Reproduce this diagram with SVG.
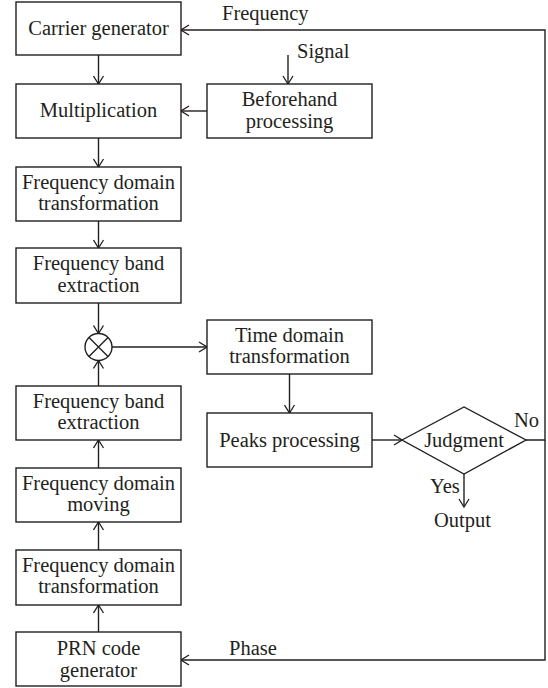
<svg xmlns="http://www.w3.org/2000/svg" width="548" height="688" viewBox="0 0 548 688">
<defs>
<style>
.box{fill:#fff;stroke:#231f20;stroke-width:1.4}
.ln{fill:none;stroke:#231f20;stroke-width:1.4}
text{font-family:'Liberation Serif','Times New Roman',serif;font-size:20.5px;fill:#231f20;text-anchor:middle}
.lbl{text-anchor:start}
</style>
<marker id="arr" viewBox="0 0 10 12" refX="9" refY="6" markerWidth="10" markerHeight="12" markerUnits="userSpaceOnUse" orient="auto">
<path d="M1,1 L9,6 L1,11" fill="none" stroke="#231f20" stroke-width="1.3"/>
</marker>
</defs>
<rect width="548" height="688" fill="#fff"/>
<g id="connectors">
<line class="ln" x1="98.5" y1="55" x2="98.5" y2="84" marker-end="url(#arr)"/>
<line class="ln" x1="207" y1="111" x2="181" y2="111" marker-end="url(#arr)"/>
<line class="ln" x1="288" y1="55" x2="288" y2="84" marker-end="url(#arr)"/>
<polyline class="ln" points="526,440 545,440 545,30 181,30" marker-end="url(#arr)"/>
<line class="ln" x1="98.5" y1="138" x2="98.5" y2="167" marker-end="url(#arr)"/>
<line class="ln" x1="98.5" y1="221" x2="98.5" y2="248" marker-end="url(#arr)"/>
<line class="ln" x1="98.5" y1="303" x2="98.5" y2="333.5" marker-end="url(#arr)"/>
<line class="ln" x1="98.5" y1="386" x2="98.5" y2="360.5" marker-end="url(#arr)"/>
<line class="ln" x1="112" y1="347" x2="207" y2="347" marker-end="url(#arr)"/>
<line class="ln" x1="289.5" y1="374" x2="289.5" y2="413" marker-end="url(#arr)"/>
<line class="ln" x1="372" y1="440" x2="402" y2="440" marker-end="url(#arr)"/>
<polyline class="ln" points="545,440 545,660 181,660" marker-end="url(#arr)"/>
<line class="ln" x1="464" y1="474" x2="464" y2="507" marker-end="url(#arr)"/>
<line class="ln" x1="98.5" y1="468" x2="98.5" y2="440" marker-end="url(#arr)"/>
<line class="ln" x1="98.5" y1="550" x2="98.5" y2="522" marker-end="url(#arr)"/>
<line class="ln" x1="98.5" y1="632" x2="98.5" y2="605" marker-end="url(#arr)"/>
<text class="lbl" x="222" y="20">Frequency</text>
<text class="lbl" x="297" y="58">Signal</text>
<text class="lbl" x="514" y="427">No</text>
<text class="lbl" x="430" y="493">Yes</text>
<text class="lbl" x="434" y="527">Output</text>
<text class="lbl" x="229" y="655">Phase</text>
</g>
<g id="carrier"><rect class="box" x="16" y="2" width="165" height="53"/><text x="98.5" y="35">Carrier generator</text></g>
<g id="multiplication"><rect class="box" x="16" y="84" width="165" height="54"/><text x="98.5" y="117">Multiplication</text></g>
<g id="beforehand"><rect class="box" x="207" y="84" width="165" height="54"/><text x="289.5" y="106">Beforehand</text><text x="289.5" y="128">processing</text></g>
<g id="fdt1"><rect class="box" x="16" y="167" width="165" height="54"/><text x="98.5" y="189">Frequency domain</text><text x="98.5" y="210">transformation</text></g>
<g id="fbe1"><rect class="box" x="16" y="248" width="165" height="55"/><text x="98.5" y="270">Frequency band</text><text x="98.5" y="292">extraction</text></g>
<g id="mult"><circle class="box" cx="98.5" cy="347" r="13.5"/><path class="ln" d="M89,337.5 L108,356.5 M108,337.5 L89,356.5"/></g>
<g id="tdt"><rect class="box" x="207" y="320" width="165" height="54"/><text x="289.5" y="342">Time domain</text><text x="289.5" y="363">transformation</text></g>
<g id="fbe2"><rect class="box" x="16" y="386" width="165" height="54"/><text x="98.5" y="408">Frequency band</text><text x="98.5" y="429">extraction</text></g>
<g id="peaks"><rect class="box" x="207" y="413" width="165" height="54"/><text x="289.5" y="447">Peaks processing</text></g>
<g id="judgment"><polygon class="box" points="402,440 464,407 526,440 464,474"/><text x="464" y="447">Judgment</text></g>
<g id="fdm"><rect class="box" x="16" y="468" width="165" height="54"/><text x="98.5" y="490">Frequency domain</text><text x="98.5" y="511">moving</text></g>
<g id="fdt2"><rect class="box" x="16" y="550" width="165" height="55"/><text x="98.5" y="572">Frequency domain</text><text x="98.5" y="593">transformation</text></g>
<g id="prn"><rect class="box" x="16" y="632" width="165" height="54"/><text x="98.5" y="655">PRN code</text><text x="98.5" y="677">generator</text></g>
</svg>
